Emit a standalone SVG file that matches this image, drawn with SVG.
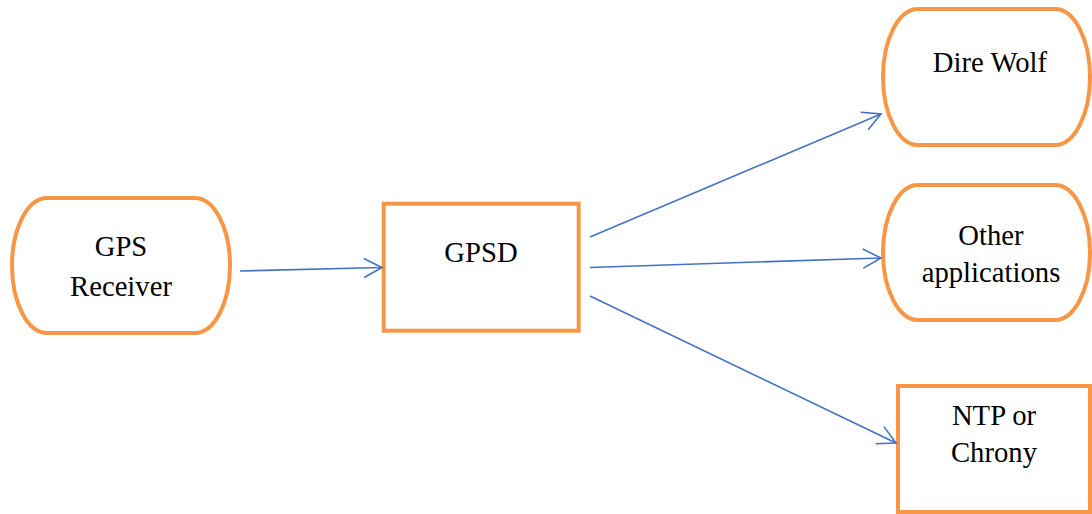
<svg xmlns="http://www.w3.org/2000/svg" width="1092" height="514" viewBox="0 0 1092 514">
<style>
.node{fill:#ffffff;stroke:#F79646;stroke-width:4}
.lbl{font-family:"Liberation Serif","Times New Roman",serif;font-size:28.7px;fill:#000000;text-anchor:middle}
.edge{stroke:#4472C4;stroke-width:1.6;fill:none}
</style>
<defs>
<marker id="arr" markerUnits="userSpaceOnUse" viewBox="0 0 22 22" markerWidth="22" markerHeight="22" refX="20" refY="11" orient="auto">
<path d="M2,1.5 L20,11 L2,20.5" fill="none" stroke="#4472C4" stroke-width="1.6"/>
</marker>
</defs>
<rect width="1092" height="514" fill="#ffffff"/>
<g id="gps-receiver">
<path class="node" d="M47,198 H195 A35 67.5 0 0 1 195,333 H47 A35 67.5 0 0 1 47,198 Z"/>
<text class="lbl" x="121" y="256">GPS</text>
<text class="lbl" x="121" y="296">Receiver</text>
</g>
<g id="gpsd">
<rect class="node" x="383.7" y="203.7" width="195" height="127"/>
<text class="lbl" x="481" y="262">GPSD</text>
</g>
<g id="dire-wolf">
<path class="node" d="M918,9 H1055 A35 68 0 0 1 1055,145 H918 A35 68 0 0 1 918,9 Z"/>
<text class="lbl" x="990" y="72">Dire Wolf</text>
</g>
<g id="other-applications">
<path class="node" d="M918,185 H1055 A35 67.5 0 0 1 1055,320 H918 A35 67.5 0 0 1 918,185 Z"/>
<text class="lbl" x="991" y="245">Other</text>
<text class="lbl" x="991" y="282">applications</text>
</g>
<g id="ntp-chrony">
<rect class="node" x="898" y="386" width="192" height="126"/>
<text class="lbl" x="994" y="425">NTP or</text>
<text class="lbl" x="994" y="462">Chrony</text>
</g>
<g id="connectors">
<line class="edge" x1="240" y1="271" x2="382" y2="267.5" marker-end="url(#arr)"/>
<line class="edge" x1="590" y1="237" x2="881" y2="114" marker-end="url(#arr)"/>
<line class="edge" x1="590" y1="267.5" x2="881" y2="258" marker-end="url(#arr)"/>
<line class="edge" x1="590" y1="296" x2="896" y2="443" marker-end="url(#arr)"/>
</g>
</svg>
